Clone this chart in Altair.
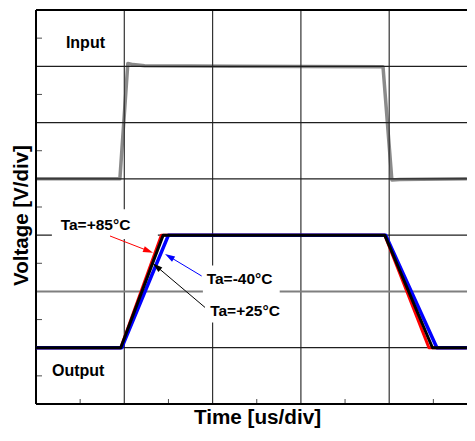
import math
import altair as alt
import pandas as pd

# ---------------- data (in oscilloscope divisions) ----------------
in_x = [0.0, 0.95, 1.04, 1.10, 1.23, 2.25, 3.93, 4.03, 4.12, 4.88]
in_y = [4.00, 4.00, 6.05, 6.03, 6.01, 6.00, 5.99, 3.98, 3.99, 4.00]

red_x = [0.0, 0.96, 1.42, 3.95, 4.45, 4.88]
blk_x = [0.0, 0.96, 1.44, 3.95, 4.49, 4.88]
blu_x = [0.0, 0.97, 1.50, 3.96, 4.54, 4.88]
out_y = [1.0, 1.0, 3.0, 3.0, 1.0, 1.0]

grid_x = [1, 2, 3, 4]
grid_y = [1, 3, 4, 5, 6]
grid_y_mid = [2]
tick_left = [0.5, 1.5, 2.5, 3.5, 4.5, 5.5, 6.5]
tick_bottom = [0.5, 1.5, 2.5, 3.5, 4.5]
frame_x = [0]
frame_y = [0, 7]

box_x1 = [0.18, 1.89]
box_x2 = [1.38, 2.76]
box_y1 = [2.93, 1.45]
box_y2 = [3.46, 2.46]

main_labels = ["Input", "Output"]
main_lx = [0.56, 0.478]
main_ly = [6.33, 0.50]

ta_labels = ["Ta=+85°C", "Ta=-40°C", "Ta=+25°C"]
ta_lx = [0.674, 2.305, 2.367]
ta_ly = [3.084, 2.124, 1.559]

arrow_color = ["#ff0000", "#0000ff", "#000000"]
arrow_sx = [0.838, 1.876, 1.914]
arrow_sy = [2.985, 2.274, 1.716]
arrow_tx = [1.325, 1.461, 1.322]
arrow_ty = [2.688, 2.665, 2.501]

W, H = 431, 394
X_MAX = W / 88.3
Y_MAX = 7
PX_X = W / X_MAX
PX_Y = H / Y_MAX
HEAD = 5.0  # half length of arrow head in px

xs = alt.Scale(domain=[0, X_MAX], nice=False, zero=False)
ys = alt.Scale(domain=[0, Y_MAX], nice=False, zero=False)
FONT = "Liberation Sans"

# arrows: head position / rotation derived from the data
rows = []
for c, sx, sy, tx, ty in zip(arrow_color, arrow_sx, arrow_sy, arrow_tx, arrow_ty):
    dxp = (tx - sx) * PX_X
    dyp = -(ty - sy) * PX_Y
    L = math.hypot(dxp, dyp)
    ux, uy = dxp / L, dyp / L
    ang = math.degrees(math.atan2(ux, -uy)) % 360
    hx = tx - HEAD * ux / PX_X
    hy = ty + HEAD * uy / PX_Y
    rows.append(dict(c=c, sx=sx, sy=sy, hx=hx, hy=hy, ang=ang))
arrows = pd.DataFrame(rows)


def X(f):
    return alt.X(f, type="quantitative", scale=xs)


def Y(f):
    return alt.Y(f, type="quantitative", scale=ys)


df_in = pd.DataFrame({"x": in_x, "y": in_y, "i": list(range(len(in_x)))})

# first layer carries the axis titles
line_in = alt.Chart(df_in).mark_line(
    color="#8a8a8a", strokeWidth=3.5, strokeJoin="round", clip=True
).encode(
    x=alt.X("x:Q", scale=xs, axis=alt.Axis(
        title="Time [us/div]", titleFont=FONT, titleFontSize=20.7, titleFontWeight="bold",
        titleColor="#000", titleBaseline="alphabetic", titleAlign="center",
        titleX=221, titleY=19.5)),
    y=alt.Y("y:Q", scale=ys, axis=alt.Axis(
        title="Voltage [V/div]", titleFont=FONT, titleFontSize=20.5, titleFontWeight="bold",
        titleColor="#000", titleAngle=270, titleAlign="center", titleBaseline="alphabetic",
        titleX=-9, titleY=205)),
    order="i:Q",
)

gx = alt.Chart(pd.DataFrame({"x": grid_x})).mark_rule(color="#333333", strokeWidth=1.2).encode(x=X("x"))
gy = alt.Chart(pd.DataFrame({"y": grid_y})).mark_rule(color="#1e1e1e", strokeWidth=1.2).encode(y=Y("y"))
gym = alt.Chart(pd.DataFrame({"y": grid_y_mid})).mark_rule(color="#7f7f7f", strokeWidth=2).encode(y=Y("y"))

tl = alt.Chart(pd.DataFrame({"y": tick_left})).mark_tick(
    orient="horizontal", size=12, thickness=1, color="#000", clip=True
).encode(y=Y("y"), x=alt.X(datum=0, scale=xs))
tb = alt.Chart(pd.DataFrame({"x": tick_bottom})).mark_tick(
    orient="vertical", size=10, thickness=1, color="#000", clip=True
).encode(x=X("x"), y=alt.Y(datum=0, scale=ys))

boxes = alt.Chart(pd.DataFrame({"x1": box_x1, "x2": box_x2, "y1": box_y1, "y2": box_y2})).mark_rect(
    color="white"
).encode(x=X("x1"), x2="x2", y=Y("y1"), y2="y2")

fx = alt.Chart(pd.DataFrame({"x": frame_x})).mark_rule(color="#000", strokeWidth=2).encode(x=X("x"))
fy = alt.Chart(pd.DataFrame({"y": frame_y})).mark_rule(color="#000", strokeWidth=2).encode(y=Y("y"))


def trace(xv, col, w):
    d = pd.DataFrame({"x": xv, "y": out_y, "i": list(range(len(xv)))})
    return alt.Chart(d).mark_line(color=col, strokeWidth=w, strokeJoin="round", clip=True).encode(
        x=X("x"), y=Y("y"), order="i:Q")


t_red = trace(red_x, "#ff0000", 3)
t_blu = trace(blu_x, "#0000ff", 3.5)
t_blk = trace(blk_x, "#000000", 3)

arrow_lines = alt.Chart(arrows).mark_rule(strokeWidth=1).encode(
    x=X("sx"), y=Y("sy"), x2="hx", y2="hy", color=alt.Color("c:N", scale=None))
arrow_heads = alt.Chart(arrows).mark_point(
    shape="M0,-1L-0.6,1L0.6,1Z", filled=True, size=100, opacity=1, strokeWidth=0
).encode(x=X("hx"), y=Y("hy"), angle=alt.Angle("ang:Q", scale=None), color=alt.Color("c:N", scale=None))

txt_main = alt.Chart(pd.DataFrame({"t": main_labels, "x": main_lx, "y": main_ly})).mark_text(
    font=FONT, fontSize=16, fontWeight="bold", color="#000", align="center", baseline="alphabetic"
).encode(x=X("x"), y=Y("y"), text="t:N")
txt_ta = alt.Chart(pd.DataFrame({"t": ta_labels, "x": ta_lx, "y": ta_ly})).mark_text(
    font=FONT, fontSize=15.5, fontWeight="bold", color="#000", align="center", baseline="alphabetic"
).encode(x=X("x"), y=Y("y"), text="t:N")

chart = alt.layer(
    line_in, gx, gy, gym, tl, tb, boxes, fx, fy,
    t_red, t_blu, t_blk, arrow_lines, arrow_heads, txt_main, txt_ta
).properties(
    width=W, height=H,
    autosize=alt.AutoSizeParams(type="none"),
    padding={"left": 28, "top": 2, "right": 0, "bottom": 25},
).configure(
    background="white",
).configure_view(
    strokeWidth=0,
).configure_axis(
    labels=False, ticks=False, domain=False, grid=False,
)

chart.save("out.html", embed_options={"renderer": "svg", "actions": False})
